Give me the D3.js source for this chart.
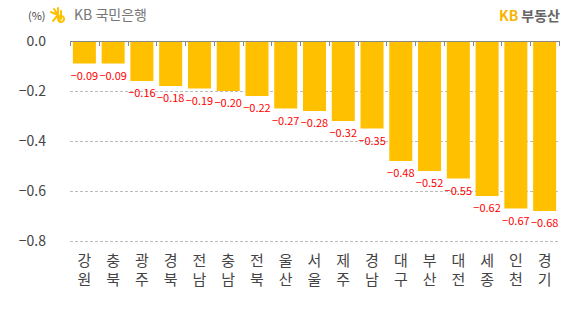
<!DOCTYPE html>
<html>
<head>
<meta charset="utf-8">
<script src="https://cdn.jsdelivr.net/npm/d3@7"></script>
<style>
  body { margin: 0; background: #fff; }
  text { font-family: "Noto Sans CJK KR", "Noto Sans", sans-serif; }
</style>
</head>
<body>
<div id="chart"></div>
<script>
// regions (two lines each) and price change (%)
const regions = ["강원", "충북", "광주", "경북", "전남", "충남", "전북", "울산", "서울", "제주", "경남", "대구", "부산", "대전", "세종", "인천", "경기"];
const changes = [-0.09, -0.09, -0.16, -0.18, -0.19, -0.20, -0.22, -0.27, -0.28, -0.32, -0.35, -0.48, -0.52, -0.55, -0.62, -0.67, -0.68];
const yTicks = [0, -0.2, -0.4, -0.6, -0.8];

const width = 587, height = 310;
const margin = { top: 41, right: 28, bottom: 69, left: 70 };

const svg = d3.select("#chart").append("svg")
    .attr("width", width)
    .attr("height", height);

const x = d3.scaleBand()
    .domain(regions)
    .range([margin.left, width - margin.right])
    .paddingInner(0.2)
    .paddingOuter(0.1);

const y = d3.scaleLinear()
    .domain([0, -0.8])
    .range([margin.top, height - margin.bottom]);

// grid lines
svg.append("g")
    .selectAll("line")
    .data(yTicks.slice(1))
    .join("line")
    .attr("x1", margin.left)
    .attr("x2", width - margin.right)
    .attr("y1", d => y(d) + 0.5)
    .attr("y2", d => y(d) + 0.5)
    .attr("stroke", "#bbb")
    .attr("stroke-dasharray", "3,2");

// y tick labels
svg.append("g")
    .selectAll("text")
    .data(yTicks)
    .join("text")
    .attr("x", 46)
    .attr("y", d => y(d))
    .attr("dy", "0.35em")
    .attr("text-anchor", "end")
    .attr("fill", "#444")
    .style("font-size", "14px")
    .text(d => d3.format(".1f")(d).replace("-", "−"));

// bars
svg.append("g")
    .selectAll("rect")
    .data(changes)
    .join("rect")
    .attr("x", (d, i) => x(regions[i]))
    .attr("y", y(0))
    .attr("width", x.bandwidth())
    .attr("height", d => y(d) - y(0))
    .attr("fill", "#FFC000");

// zero axis with category boundary ticks
const plotW = width - margin.right - margin.left;
svg.append("line")
    .attr("x1", margin.left)
    .attr("x2", width - margin.right)
    .attr("y1", y(0) + 0.5)
    .attr("y2", y(0) + 0.5)
    .attr("stroke", "#888");

svg.append("g")
    .selectAll("line")
    .data(d3.range(regions.length + 1))
    .join("line")
    .attr("x1", i => Math.round(margin.left + i * plotW / regions.length) + 0.5)
    .attr("x2", i => Math.round(margin.left + i * plotW / regions.length) + 0.5)
    .attr("y1", y(0))
    .attr("y2", y(0) + 5)
    .attr("stroke", "#888");

// value labels
svg.append("g")
    .selectAll("text")
    .data(changes)
    .join("text")
    .attr("x", (d, i) => x(regions[i]) + x.bandwidth() / 2)
    .attr("y", d => y(d) + 16)
    .attr("text-anchor", "middle")
    .attr("fill", "#f00")
    .style("font-size", "11px")
    .text(d => d3.format(".2f")(d).replace("-", "−"));

// category labels, one character per line
const chars = regions.flatMap(r => r.split("").map((c, j) => ({ r, c, j })));
svg.append("g")
    .selectAll("text")
    .data(chars)
    .join("text")
    .attr("x", d => x(d.r) + x.bandwidth() / 2)
    .attr("y", d => 266 + d.j * 19)
    .attr("text-anchor", "middle")
    .attr("fill", "#444")
    .style("font-size", "15px")
    .text(d => d.c);

// header: unit + logos
svg.append("text")
    .attr("x", 28)
    .attr("y", 20)
    .attr("fill", "#444")
    .style("font-size", "11px")
    .text("(%)");

const star = svg.append("g")
    .attr("transform", "translate(58,15)")
    .attr("stroke", "#FFC000")
    .attr("stroke-width", 2)
    .attr("stroke-linecap", "round")
    .attr("fill", "none");
star.append("path").attr("d", "M-7,-3 L0,0 L-5,6 M0,-7 L0,0 L2,7 M-4,-6 L0,0");
star.append("path").attr("d", "M3,-4 L3,4 M3,1 a3,3 0 1,0 0.1,0");

svg.append("text")
    .attr("x", 74)
    .attr("y", 20)
    .attr("fill", "#777")
    .style("font-size", "14px")
    .text("KB 국민은행");

const kb = svg.append("text")
    .attr("x", 560)
    .attr("y", 21)
    .attr("text-anchor", "end")
    .style("font-size", "14px")
    .style("font-weight", "bold");
kb.append("tspan").attr("fill", "#F5B400").text("KB ");
kb.append("tspan").attr("fill", "#666").text("부동산");
</script>
</body>
</html>
